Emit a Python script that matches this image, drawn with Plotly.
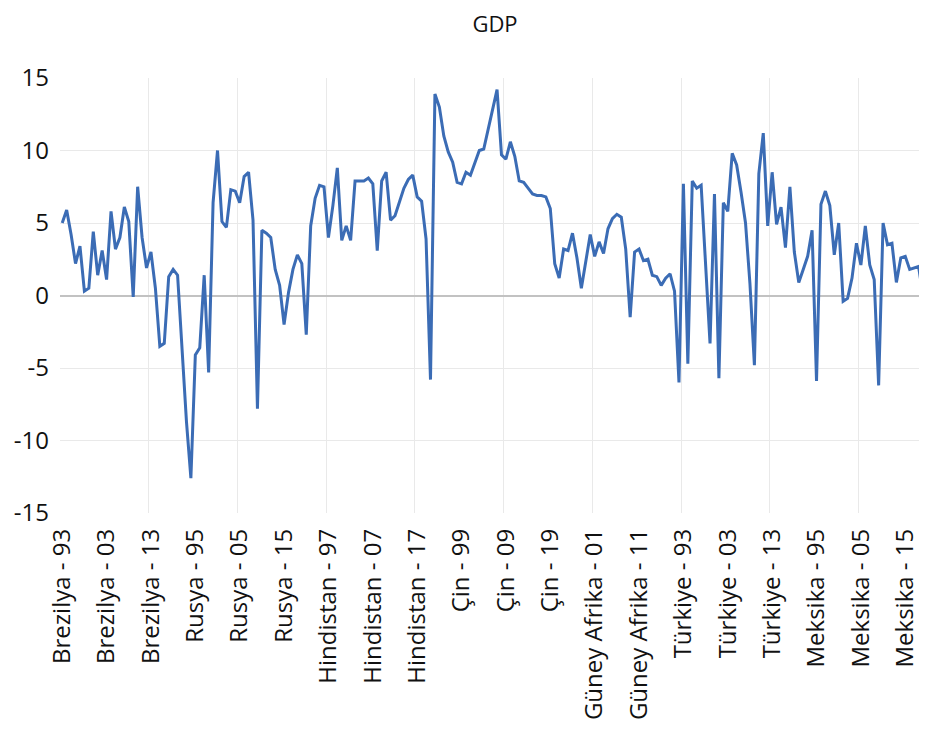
"""
GDP growth line chart, countries x years on one category axis.
"""

import plotly.graph_objects as go

# Countries and years on the category axis
COUNTRIES = ['Brezilya', 'Rusya', 'Hindistan', 'Çin', 'Güney Afrika', 'Türkiye', 'Meksika']
YEARS = ['93', '94', '95', '96', '97', '98', '99', '00', '01', '02', '03', '04', '05', '06',
         '07', '08', '09', '10', '11', '12', '13', '14', '15', '16', '17', '18', '19', '20']

# GDP growth (%) per country, 1993-2020
brezilya = [5.0, 5.9, 4.2, 2.2, 3.4, 0.3, 0.5, 4.4, 1.4, 3.1, 1.1, 5.8, 3.2, 4.0,
            6.1, 5.1, -0.1, 7.5, 4.0, 1.9, 3.0, 0.5, -3.5, -3.3, 1.3, 1.8, 1.4, -4.1]
rusya = [-8.7, -12.6, -4.1, -3.6, 1.4, -5.3, 6.4, 10.0, 5.1, 4.7, 7.3, 7.2, 6.4, 8.2,
         8.5, 5.2, -7.8, 4.5, 4.3, 4.0, 1.8, 0.7, -2.0, 0.2, 1.8, 2.8, 2.2, -2.7]
hindistan = [4.8, 6.7, 7.6, 7.5, 4.0, 6.2, 8.8, 3.8, 4.8, 3.8, 7.9, 7.9, 7.9, 8.1,
             7.7, 3.1, 7.9, 8.5, 5.2, 5.5, 6.4, 7.4, 8.0, 8.3, 6.8, 6.5, 3.9, -5.8]
cin = [13.9, 13.0, 11.0, 9.9, 9.2, 7.8, 7.7, 8.5, 8.3, 9.1, 10.0, 10.1, 11.4, 12.7,
       14.2, 9.7, 9.4, 10.6, 9.6, 7.9, 7.8, 7.4, 7.0, 6.9, 6.9, 6.8, 6.0, 2.2]
guney_afrika = [1.2, 3.2, 3.1, 4.3, 2.6, 0.5, 2.4, 4.2, 2.7, 3.7, 2.9, 4.6, 5.3, 5.6,
                5.4, 3.2, -1.5, 3.0, 3.2, 2.4, 2.5, 1.4, 1.3, 0.7, 1.2, 1.5, 0.3, -6.0]
turkiye = [7.7, -4.7, 7.9, 7.4, 7.6, 2.3, -3.3, 7.0, -5.7, 6.4, 5.8, 9.8, 9.0, 7.1,
           5.0, 0.8, -4.8, 8.4, 11.2, 4.8, 8.5, 4.9, 6.1, 3.3, 7.5, 3.0, 0.9, 1.8]
meksika = [2.7, 4.5, -5.9, 6.3, 7.2, 6.2, 2.8, 5.0, -0.4, -0.2, 1.2, 3.6, 2.1, 4.8,
           2.1, 1.1, -6.2, 5.0, 3.5, 3.6, 0.9, 2.6, 2.7, 1.8, 1.9, 2.0, 0.0, -8.2]

Y_TICKS = [-15, -10, -5, 0, 5, 10, 15]
Y_TICK_TEXT = ['-15', '-10', '-5', '0', '5', '10', '15']

FONT = 'Open Sans, sans-serif'
LINE_COLOR = '#3B6CB5'
GRID = '#e9e9e9'

series = [brezilya, rusya, hindistan, cin, guney_afrika, turkiye, meksika]
labels = [f"{c} - {y}" for c in COUNTRIES for y in YEARS]
gdp = [v for s in series for v in s]
idx = list(range(len(gdp)))

fig = go.Figure(go.Scatter(
    x=idx,
    y=gdp,
    mode='lines',
    line=dict(color=LINE_COLOR, width=3),
    hovertext=labels,
))

# page body has an 8px margin all round; keep the figure inside the window
fig.update_layout(
    width=919,
    height=713,
    paper_bgcolor='white',
    plot_bgcolor='white',
    font=dict(family=FONT, color='#111111', size=24),
    title=dict(text='GDP', x=487 / 919, xref='container', xanchor='center',
               y=1 - 16 / 713, yref='container', yanchor='middle',
               font=dict(size=22, family=FONT)),
    margin=dict(l=52, r=0, t=70, b=208),
    showlegend=False,
)

fig.update_xaxes(
    range=[-0.5, 194.9],
    automargin=False,
    tickmode='array',
    tickvals=idx[::10],
    ticktext=labels[::10],
    tickangle=-90,
    ticks='',
    showgrid=False,
    zeroline=False,
    showline=False,
    ticklabelstandoff=10,
    minor=dict(tickmode='array', tickvals=[i + 19.5 for i in idx[::20]],
               showgrid=True, gridcolor=GRID, gridwidth=1.3, ticks=''),
)

fig.update_yaxes(
    range=[-15, 15],
    automargin=False,
    tickmode='array',
    tickvals=Y_TICKS,
    ticktext=Y_TICK_TEXT,
    ticks='',
    showgrid=False,
    zeroline=True,
    zerolinecolor='#c2c2c2',
    zerolinewidth=1.5,
    ticklabelstandoff=10,
    minor=dict(tickmode='array', tickvals=[-10, -5, 5, 10],
               showgrid=True, gridcolor=GRID, gridwidth=1.3, ticks=''),
)

fig.write_html("out.html")
